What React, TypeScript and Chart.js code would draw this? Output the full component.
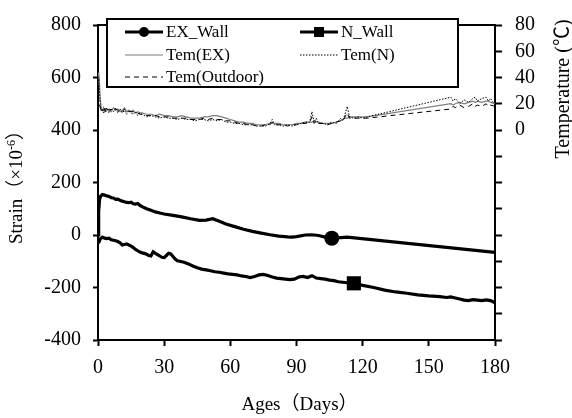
import { useEffect, useRef } from 'react';
import { Chart, registerables } from 'chart.js';

Chart.register(...registerables);

const FONT = '"Liberation Serif", "Times New Roman", "Noto Sans CJK JP", serif';

// ---- Strain, EX wall (×10^-6) ----
const exDays = [0, 0.3, 0.7, 1.2, 2, 3, 4, 5, 6, 7, 8, 9, 10, 11, 12, 13, 14, 15, 16, 17, 18, 19, 20,
  22, 24, 26, 28, 30, 34, 38, 42, 46, 49, 52, 55, 58, 62, 66, 70, 74, 78, 82, 86, 88, 90,
  94, 97, 100, 103, 106, 110, 113, 180];
const exStrain = [0, 90, 135, 148, 154, 152, 149, 147, 142, 141, 136, 137, 132, 129, 127, 124, 123, 125, 119, 118, 120, 113, 108,
  100, 94, 88, 84, 80, 75, 69, 62, 56, 57, 62, 52, 42, 32, 22, 14, 7, 1, -4, -7, -8, -6,
  0, 1, -2, -8, -12, -10, -8, -66];
const exMarkDay = 106;

// ---- Strain, N wall (×10^-6) ----
const nDays = [
  0, 0.5, 1, 2, 3, 4, 5, 6, 7, 8,
  9, 10, 11, 12, 13, 14, 15, 16, 17, 18,
  19, 20, 21, 22, 23, 24, 25, 26, 27, 28,
  29, 30, 31, 32, 33, 34, 35, 36, 37, 39,
  41, 43, 45, 47, 49, 51, 53, 55, 57, 59,
  61, 63, 65, 67, 69, 71, 73, 75, 77, 79,
  81, 83, 85, 87, 89, 91, 93, 95, 97, 99,
  101, 103, 105, 107, 109, 111, 113, 116, 120, 125,
  130, 135, 140, 145, 150, 155, 158, 160, 162, 164,
  166, 168, 170, 172, 174, 176, 178, 180];
const nStrain = [
  -30, -26, -15, -8, -12, -14, -12, -18, -20, -22,
  -25, -30, -38, -36, -34, -38, -42, -48, -55, -60,
  -65, -68, -70, -73, -78, -80, -64, -70, -75, -80,
  -85, -86, -78, -70, -72, -82, -92, -98, -100, -104,
  -110, -118, -125, -130, -133, -136, -140, -142, -145, -148,
  -150, -152, -156, -158, -162, -158, -152, -150, -154, -160,
  -164, -166, -168, -170, -168, -160, -158, -162, -155, -164,
  -166, -168, -172, -174, -178, -180, -182, -184, -192, -200,
  -210, -217, -222, -228, -232, -235, -238, -236, -240, -244,
  -248, -250, -246, -248, -250, -247, -250, -258];
const nMarkDay = 116;

// ---- Temperatures (℃) ----
const tempDays = [
  0, 0.3, 0.6, 1, 1.5, 2, 2.5, 3, 3.5, 4,
  5, 6, 7, 8, 9, 10, 11, 12, 13, 14,
  15, 16, 17, 18, 19, 20, 22, 24, 26, 28,
  30, 32, 34, 36, 38, 40, 42, 44, 46, 48,
  50, 52, 54, 56, 58, 60, 62, 64, 66, 68,
  70, 72, 74, 76, 78, 79, 80, 82, 84, 86,
  88, 90, 92, 94, 96, 97, 98, 99, 100, 102,
  104, 106, 108, 110, 111, 112, 113, 114, 116, 118,
  120, 122, 160, 161, 162, 164, 166, 168, 170, 171,
  172, 174, 176, 177, 178, 180];
const temEX = [
  35, 44, 38, 24, 16, 15, 17, 14, 16, 15,
  16, 14, 17, 15, 16, 14, 15, 17, 14, 15,
  14, 15, 13, 14, 13, 13, 12, 12, 11, 12,
  11, 11, 10, 10, 11, 10, 9, 9, 9, 10,
  10, 11, 11, 10, 9, 8, 7, 6, 6, 5,
  5, 4, 4, 4, 5, 5, 5, 5, 4, 4,
  4, 5, 5, 6, 6, 6, 7, 6, 6, 5,
  5, 5, 6, 7, 8, 9, 9, 10, 10, 10,
  10, 10, 20, 19, 20, 21, 20, 21, 22, 21,
  22, 21, 22, 22, 21, 20];
const temN = [
  30, 40, 30, 20, 14, 16, 13, 17, 14, 17,
  13, 16, 14, 17, 13, 16, 13, 15, 12, 15,
  13, 12, 14, 11, 13, 12, 10, 11, 10, 9,
  10, 9, 9, 8, 9, 8, 8, 7, 8, 8,
  7, 8, 7, 8, 6, 6, 5, 5, 4, 4,
  4, 3, 3, 3, 5, 8, 4, 4, 3, 4,
  3, 4, 5, 6, 6, 14, 6, 9, 5, 5,
  4, 6, 5, 9, 7, 12, 18, 10, 9, 10,
  9, 10, 25, 22, 24, 20, 23, 21, 24, 25,
  22, 24, 25, 22, 24, 19];
const temOutdoor = [
  22, 24, 20, 17, 15, 16, 15, 16, 14, 16,
  15, 16, 14, 16, 15, 15, 14, 16, 14, 14,
  14, 14, 13, 13, 12, 12, 11, 11, 11, 10,
  10, 10, 9, 9, 9, 9, 8, 8, 8, 9,
  8, 9, 8, 8, 7, 7, 6, 5, 5, 4,
  4, 3, 3, 4, 4, 6, 4, 4, 4, 3,
  4, 4, 5, 5, 6, 10, 5, 7, 5, 5,
  4, 5, 6, 7, 7, 10, 13, 9, 9, 9,
  9, 9, 16, 18, 17, 19, 17, 18, 20, 18,
  19, 18, 20, 18, 19, 18];

// ---- Axis ticks ----
const dayTicks = [0, 30, 60, 90, 120, 150, 180];
const strainTicks = [-400, -200, 0, 200, 400, 600, 800];
const tempTicks = [-160, -140, -120, -100, -80, -60, -40, -20, 0, 20, 40, 60, 80];

const pts = (xs: number[], ys: number[]) => xs.map((x, i) => ({ x, y: ys[i] }));

type LegendItem = {
  label: string; col: number; row: number; color: string; width: number;
  dash: number[]; marker?: 'circle' | 'rect';
};

const legendItems: LegendItem[] = [
  { label: 'EX_Wall', col: 0, row: 0, color: '#000', width: 3, dash: [], marker: 'circle' },
  { label: 'N_Wall', col: 1, row: 0, color: '#000', width: 3, dash: [], marker: 'rect' },
  { label: 'Tem(EX)', col: 0, row: 1, color: '#7f7f7f', width: 1.2, dash: [] },
  { label: 'Tem(N)', col: 1, row: 1, color: '#000', width: 1, dash: [1.5, 1.5] },
  { label: 'Tem(Outdoor)', col: 0, row: 2, color: '#000', width: 1, dash: [5, 4] },
];

const legendPlugin = {
  id: 'boxLegend',
  afterDatasetsDraw(chart: any) {
    const ctx: CanvasRenderingContext2D = chart.ctx;
    const a = chart.chartArea;
    ctx.save();
    // top frame line
    ctx.strokeStyle = '#000';
    ctx.lineWidth = 2;
    ctx.beginPath();
    ctx.moveTo(a.left, a.top);
    ctx.lineTo(a.right, a.top);
    ctx.stroke();

    // legend box
    const bx = 107, by = 19, bw = 351, bh = 68;
    ctx.fillStyle = '#fff';
    ctx.fillRect(bx, by, bw, bh);
    ctx.strokeRect(bx, by, bw, bh);

    const colX = [125, 300];
    const rowY = [32, 55, 77];
    const len = 38;
    ctx.font = `17px ${FONT}`;
    ctx.textBaseline = 'middle';
    ctx.textAlign = 'left';
    for (const it of legendItems) {
      const x0 = colX[it.col];
      const y = rowY[it.row];
      ctx.strokeStyle = it.color;
      ctx.lineWidth = it.width;
      ctx.setLineDash(it.dash);
      ctx.beginPath();
      ctx.moveTo(x0, y);
      ctx.lineTo(x0 + len, y);
      ctx.stroke();
      ctx.setLineDash([]);
      ctx.fillStyle = '#000';
      if (it.marker === 'circle') {
        ctx.beginPath();
        ctx.arc(x0 + len / 2, y, 5, 0, Math.PI * 2);
        ctx.fill();
      } else if (it.marker === 'rect') {
        ctx.fillRect(x0 + len / 2 - 5, y - 5, 10, 10);
      }
      ctx.fillStyle = '#000';
      ctx.fillText(it.label, x0 + len + 3, y + 1);
    }
    ctx.restore();
  },
  afterDraw(chart: any) {
    const ctx: CanvasRenderingContext2D = chart.ctx;
    const a = chart.chartArea;
    type Seg = { t: string; size: number; raise?: number };
    const rich = (segs: Seg[], cx: number, cy: number, rot: number) => {
      ctx.save();
      ctx.translate(cx, cy);
      ctx.rotate(rot);
      ctx.fillStyle = '#000';
      ctx.textBaseline = 'alphabetic';
      ctx.textAlign = 'left';
      let total = 0;
      for (const s of segs) {
        ctx.font = `${s.size}px ${FONT}`;
        total += ctx.measureText(s.t).width;
      }
      let x = -total / 2;
      for (const s of segs) {
        ctx.font = `${s.size}px ${FONT}`;
        ctx.fillText(s.t, x, 7 - (s.raise || 0));
        x += ctx.measureText(s.t).width;
      }
      ctx.restore();
    };
    rich([{ t: 'Ages（Days）', size: 19 }], (a.left + a.right) / 2 + 3, 403, 0);
    rich([
      { t: 'Strain（×10', size: 19 },
      { t: '-6', size: 12, raise: 7 },
      { t: '）', size: 19 },
    ], 15, (a.top + a.bottom) / 2, -Math.PI / 2);
    rich([{ t: 'Temperature (℃)', size: 20 }], 562, 89, -Math.PI / 2);
  },
};

export default function App() {
  const ref = useRef<HTMLCanvasElement>(null);

  useEffect(() => {
    if (!ref.current) return;
    const exIdx = exDays.indexOf(exMarkDay);
    const nIdx = nDays.indexOf(nMarkDay);
    const tickFont = { family: FONT, size: 20 };
    const chart = new Chart(ref.current, {
      type: 'line',
      data: {
        datasets: [
          {
            label: 'Tem(Outdoor)', yAxisID: 'y2', data: pts(tempDays, temOutdoor),
            borderColor: '#000', borderWidth: 1, borderDash: [5, 4], pointRadius: 0,
          },
          {
            label: 'Tem(N)', yAxisID: 'y2', data: pts(tempDays, temN),
            borderColor: '#000', borderWidth: 1, borderDash: [1.5, 1.5], pointRadius: 0,
          },
          {
            label: 'Tem(EX)', yAxisID: 'y2', data: pts(tempDays, temEX),
            borderColor: '#7f7f7f', borderWidth: 1.2, pointRadius: 0,
          },
          {
            label: 'EX_Wall', yAxisID: 'y', data: pts(exDays, exStrain),
            borderColor: '#000', borderWidth: 3.2, backgroundColor: '#000',
            pointStyle: 'circle', pointBorderWidth: 0,
            pointRadius: exDays.map((_, i) => (i === exIdx ? 7.5 : 0)),
          },
          {
            label: 'N_Wall', yAxisID: 'y', data: pts(nDays, nStrain),
            borderColor: '#000', borderWidth: 3.2, backgroundColor: '#000',
            pointStyle: 'rect', pointBorderWidth: 0,
            pointRadius: nDays.map((_, i) => (i === nIdx ? 10 : 0)),
          },
        ],
      },
      options: {
        animation: false,
        responsive: false,
        devicePixelRatio: 1,
        layout: { padding: { top: 14, left: 0, right: 0, bottom: 0 } },
        plugins: { legend: { display: false }, tooltip: { enabled: false } },
        elements: { line: { tension: 0 } },
        scales: {
          x: {
            type: 'linear', min: 0, max: 180,
            afterBuildTicks: (s: any) => { s.ticks = dayTicks.map((v) => ({ value: v })); },
            afterFit: (s: any) => { s.height = 78; },
            border: { color: '#000', width: 2 },
            grid: { drawOnChartArea: false, drawTicks: true, tickLength: 6, tickColor: '#000', tickWidth: 2 },
            ticks: { font: tickFont, color: '#000', padding: 10, autoSkip: false, maxRotation: 0 },
          },
          y: {
            type: 'linear', position: 'left', min: -400, max: 800,
            afterBuildTicks: (s: any) => { s.ticks = strainTicks.map((v) => ({ value: v })); },
            afterFit: (s: any) => { s.width = 98; },
            border: { color: '#000', width: 2 },
            grid: { drawOnChartArea: false, drawTicks: true, tickLength: 5, tickColor: '#000', tickWidth: 2 },
            ticks: { font: tickFont, color: '#000', padding: 12, autoSkip: false },
          },
          y2: {
            type: 'linear', position: 'right', min: -160, max: 80,
            afterBuildTicks: (s: any) => { s.ticks = tempTicks.map((v) => ({ value: v })); },
            afterFit: (s: any) => { s.width = 77; },
            border: { color: '#000', width: 2 },
            grid: { drawOnChartArea: false, drawTicks: true, tickLength: 7, tickColor: '#000', tickWidth: 2 },
            ticks: {
              font: tickFont, color: '#000', padding: 13, autoSkip: false,
              callback: (v: any) => (Number(v) >= 0 ? String(v) : ''),
            },
          },
        },
      },
      plugins: [legendPlugin],
    } as any);
    return () => chart.destroy();
  }, []);

  return (
    <div style={{ position: 'fixed', left: 0, top: 0, width: 572, height: 418, background: '#fff' }}>
      <canvas ref={ref} width={572} height={418} style={{ display: 'block' }} />
    </div>
  );
}
